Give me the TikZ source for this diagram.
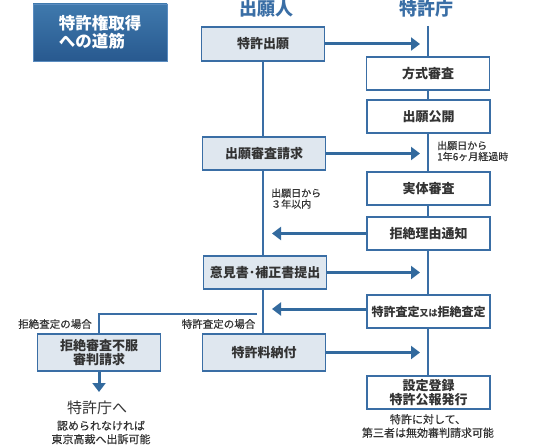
\documentclass[tikz,border=0pt]{standalone}
\usepackage{fontspec}
\setmainfont{Noto Sans CJK JP}
\newfontface\jpmed{Noto Sans CJK JP}[FakeBold=0.5]
\usetikzlibrary{arrows.meta,backgrounds}
\definecolor{bblue}{HTML}{3A6EA5}
\definecolor{ablue}{HTML}{336A9E}
\definecolor{afill}{HTML}{DFE7EF}
\definecolor{tgtop}{HTML}{3F79AD}
\definecolor{tgbot}{HTML}{28598F}
\definecolor{tborder}{HTML}{5A8CC0}
\definecolor{txt}{HTML}{333333}
\begin{document}
\begin{tikzpicture}[x=1pt,y=-1pt,
  boxtext/.style={font=\bfseries\fontsize{13}{14}\selectfont, text=txt, align=center, inner sep=0pt},
  lbox/.style={boxtext, draw=bblue, line width=1.3pt, fill=afill, minimum width=123pt, minimum height=34pt},
  lbox2/.style={lbox, minimum height=37pt},
  rbox/.style={boxtext, draw=bblue, line width=1.3pt, fill=white, minimum width=123pt, minimum height=33pt},
  colline/.style={draw=bblue, line width=2pt},
  arr/.style={draw=ablue, line width=3pt, -{Triangle[length=9pt,width=13pt]}},
  header/.style={font=\bfseries\fontsize{18}{20}\selectfont, text=bblue, inner sep=0pt},
  small/.style={font=\jpmed\fontsize{10}{11}\selectfont, text=txt, align=left, inner sep=0pt},
  lbl/.style={font=\jpmed\fontsize{10.5}{12}\selectfont, text=txt, inner sep=0pt},
  note/.style={font=\jpmed\fontsize{11}{13.5}\selectfont, text=txt, align=center, inner sep=0pt},
  titlebox/.style={draw=tborder, line width=0.8pt, top color=tgtop, bottom color=tgbot,
     minimum width=134pt, minimum height=57pt, text=white, align=left,
     font=\bfseries\fontsize{16.5}{18}\selectfont, inner sep=0pt}
]
\useasboundingbox (0,0) rectangle (540,444);

% title
\node[titlebox] (title) at (100,32.5) {特許権取得\\への道筋};

% headers
\node[header] (h1) at (266,9) {出願人};
\node[header] (h2) at (426,9) {特許庁};

% left column boxes
\node[lbox] (n1) at (263,44) {特許出願};
\node[lbox, minimum height=33pt] (n2) at (264,153.5) {出願審査請求};
\node[lbox, minimum height=33pt] (n3) at (265,272.5) {意見書･補正書提出};
\node[lbox2] (n4) at (264,352.5) {特許料納付};
\node[lbox2] (n5) at (99,352.5) {拒絶審査不服\\審判請求};

% right column boxes
\node[rbox] (r1) at (428,73.5) {方式審査};
\node[rbox] (r2) at (428.5,116.5) {出願公開};
\node[rbox] (r3) at (428.5,188.5) {実体審査};
\node[rbox] (r4) at (428.5,233.5) {拒絶理由通知};
\node[rbox, font=\bfseries\fontsize{12}{14}\selectfont] (r5) at (428.5,311.5) {特許査定{\fontsize{9}{10}\selectfont 又は}拒絶査定};
\node[rbox, minimum height=33pt] (r6) at (428.5,392.5) {設定登録\\特許公報発行};

% helper coordinates
\coordinate (rtop) at (428,26);
\coordinate (rl) at (420,0);
\coordinate (ll) at (272,0);
\coordinate (br) at (257,314);
\coordinate (dn) at (99,392);

% column lines behind boxes
\begin{scope}[on background layer]
  \draw[colline] (rtop) -- (rtop |- r6.north);
  \draw[colline] (n1.south) -- (n1.south |- n3.north);
  \draw[colline] (n1.south |- n3.south) -- (n1.south |- n4.north);
\end{scope}

% branch to rejection appeal
\draw[colline] (br) -- (br -| n5) -- (n5.north);

% arrows
\draw[arr] (n1.east) -- (n1.east -| rl);
\draw[arr] (n2.east) -- (n2.east -| rl);
\draw[arr] (r4.west) -- (r4.west -| ll);
\draw[arr] (n3.east) -- (n3.east -| rl);
\draw[arr] ([yshift=2.5pt]r5.west) -- ([yshift=2.5pt]r5.west -| ll);
\draw[arr] (n4.east) -- (n4.east -| rl);
\draw[arr] (n5.south) -- (dn);

% labels
\node[small, anchor=west] (lab1) at (437,151) {出願日から\\1年6ヶ月経過時};
\node[small, anchor=west] (lab2) at (271,198.5) {出願日から\\３年以内};
\node[lbl] (lab3) at (55,324) {拒絶査定の場合};
\node[lbl] (lab4) at (218.5,324) {特許査定の場合};
\node[font=\fontsize{15}{17}\selectfont, text=txt, inner sep=0pt] (lab5) at (97,408) {特許庁へ};
\node[note] (lab6) at (101,432.5) {認められなければ\\東京高裁へ出訴可能};
\node[note] (lab7) at (428,426) {特許に対して、\\第三者は無効審判請求可能};
\end{tikzpicture}
\end{document}
